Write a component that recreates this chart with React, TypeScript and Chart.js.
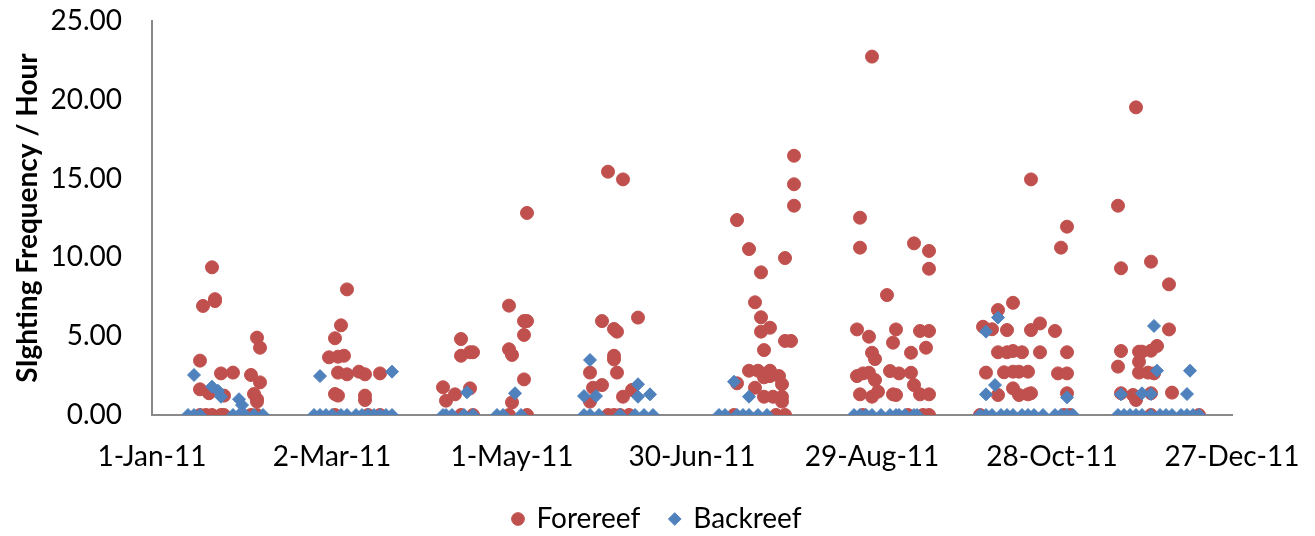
import React, { useEffect, useRef } from "react";
import { Chart, registerables } from "chart.js";

Chart.register(...registerables);

// X axis: days since 1 Jan 2011, labelled every 60 days
const xTickDays = [0, 60, 120, 180, 240, 300, 360];
const xTickLabels = ["1-Jan-11", "2-Mar-11", "1-May-11", "30-Jun-11", "29-Aug-11", "28-Oct-11", "27-Dec-11"];

// Forereef surveys: day of year and sightings per hour
const foreDays = [
  16, 16, 16, 17, 18, 19, 20, 20, 21, 21, 23, 23, 24, 24, 27, 33, 33, 34, 35, 35, 35, 35, 36, 36,
  59, 61, 61, 61, 62, 62, 62, 63, 64, 65, 65, 69, 71, 71, 71, 72, 76, 76,
  97, 98, 101, 103, 103, 103, 106, 106, 107, 107, 119, 119, 119, 120, 120, 124, 124, 124, 125, 125, 125,
  146, 146, 147, 150, 150, 152, 152, 154, 154, 154, 154, 155, 155, 156, 157, 157, 159, 160, 162,
  194, 195, 195, 199, 199, 201, 201, 202, 203, 203, 203, 204, 204, 204, 206, 206, 206, 207, 208, 209,
  210, 210, 210, 211, 211, 211, 213, 214, 214, 214,
  235, 235, 236, 236, 236, 237, 237, 239, 239, 240, 240, 240, 241, 241, 242, 245, 246, 247, 247, 248,
  248, 249, 252, 253, 253, 254, 254, 256, 256, 257, 258, 259, 259, 259, 259, 259,
  276, 277, 278, 280, 282, 282, 282, 284, 285, 285, 287, 287, 287, 287, 289, 289, 290, 292, 292, 293,
  293, 293, 296, 296, 301, 302, 303, 304, 305, 305, 305, 305, 306,
  322, 322, 323, 323, 323, 327, 328, 328, 329, 329, 329, 330, 332, 333, 333, 333, 333, 334, 335, 339,
  339, 340, 349,
];
const foreRates = [
  0, 3.45, 1.63, 6.92, 0, 1.38, 9.37, 0, 7.23, 7.35, 2.64, 0, 1.23, 0, 2.69, 2.54, 0, 1.33, 4.91, 1.0, 0.85, 0, 4.27, 2.07,
  3.66, 4.87, 1.33, 0, 3.7, 2.69, 1.23, 5.69, 3.76, 7.97, 2.58, 2.75, 2.58, 1.23, 0.95, 0, 2.64, 0,
  1.76, 0.91, 1.31, 4.82, 3.76, 0, 3.98, 1.69, 3.98, 0, 6.94, 4.17, 0, 3.81, 0.8, 5.96, 5.08, 2.26, 5.96, 12.82, 0,
  2.69, 0.85, 1.73, 5.96, 1.9, 15.44, 0, 5.46, 3.76, 3.53, 0, 5.29, 2.69, 0, 14.95, 1.16, 0, 1.59, 6.18,
  0, 12.37, 2.01, 10.53, 2.81, 7.15, 1.73, 2.81, 9.05, 6.2, 5.29, 4.12, 2.39, 1.16, 5.54, 2.81, 2.47, 1.16, 0, 2.47,
  1.95, 1.16, 0.85, 9.96, 4.7, 0, 4.7, 16.45, 14.64, 13.28,
  5.43, 2.47, 12.52, 10.62, 1.31, 2.64, 0, 4.97, 2.68, 22.74, 3.95, 1.16, 3.55, 2.22, 1.48, 7.61, 2.79, 4.59, 1.31, 5.43,
  1.27, 2.64, 0, 3.95, 2.68, 10.89, 1.9, 5.33, 1.31, 0, 4.27, 10.41, 9.28, 5.33, 1.31, 0,
  0, 5.6, 2.69, 5.44, 6.66, 3.98, 1.27, 2.71, 5.39, 3.98, 7.12, 4.06, 2.75, 1.69, 2.75, 1.27, 3.98, 2.75, 1.31, 14.95,
  5.39, 1.38, 5.81, 3.98, 5.33, 2.64, 10.62, 0, 11.95, 3.98, 2.64, 1.38, 0,
  13.28, 3.07, 9.31, 4.06, 1.38, 1.27, 19.52, 0.95, 4.02, 3.38, 2.69, 4.02, 2.69, 9.73, 4.08, 1.38, 0, 2.64, 4.38, 8.29,
  5.43, 1.42, 0,
];

// Backreef surveys: day of year and sightings per hour
const backDays = [
  12, 14, 14, 16, 20, 22, 23, 27, 29, 29, 30, 31, 34, 37,
  54, 56, 56, 58, 60, 63, 65, 68, 70, 72, 74, 76, 78, 80, 80,
  97, 98, 100, 104, 105, 107, 115, 117, 121, 123,
  144, 144, 146, 146, 148, 149, 156, 161, 162, 162, 164, 166, 167,
  189, 191, 194, 195, 197, 199, 199, 202, 205,
  234, 236, 238, 240, 243, 246, 248, 249, 251, 254, 255,
  276, 278, 278, 278, 280, 281, 282, 283, 285, 287, 290, 292, 294, 297, 301, 303, 305, 305, 307,
  322, 323, 324, 326, 328, 330, 330, 333, 333, 334, 335, 336, 338, 340, 343, 345, 345, 346, 347, 349,
];
const backRates = [
  0, 2.54, 0, 0, 1.8, 1.54, 1.16, 0, 1.0, 0, 0.63, 0, 0, 0,
  0, 2.47, 0, 0, 0, 0, 0, 0, 0, 0, 0, 0, 0, 2.75, 0,
  0, 0, 0, 0, 1.44, 0, 0, 0, 1.38, 0,
  1.2, 0, 3.49, 0, 1.2, 0, 0, 0, 1.95, 1.16, 0, 1.31, 0,
  0, 0, 2.11, 0, 0, 1.16, 0, 0, 0,
  0, 0, 0, 0, 0, 0, 0, 0, 0, 0, 0,
  0, 5.29, 1.31, 0, 0, 1.9, 6.18, 0, 0, 0, 0, 0, 0, 0, 0, 0, 1.12, 0, 0,
  0, 1.31, 0, 0, 0, 1.38, 0, 1.33, 0, 5.65, 2.81, 0, 0, 0, 0, 1.33, 0, 2.81, 0, 0,
];

const toPoints = (days: number[], rates: number[]) =>
  days.map((d, i) => ({ x: d, y: rates[i] }));

const FONT = "Lato, 'Noto Sans', sans-serif";
const AXIS_GREY = "#898989";
const LEGEND_PAD = 30;

export default function App() {
  const canvasRef = useRef<HTMLCanvasElement>(null);

  useEffect(() => {
    if (!canvasRef.current) return;
    const chart = new Chart(canvasRef.current, {
      type: "scatter",
      data: {
        datasets: [
          {
            label: "Forereef",
            data: toPoints(foreDays, foreRates),
            pointStyle: "circle",
            pointRadius: 6.5,
            pointBorderWidth: 1,
            backgroundColor: "#C0504D",
            borderColor: "#C0504D",
            order: 1,
          },
          {
            label: "Backreef",
            data: toPoints(backDays, backRates),
            pointStyle: "rectRot",
            pointRadius: 6.5,
            pointBorderWidth: 1,
            backgroundColor: "#4F81BD",
            borderColor: "#4F81BD",
            order: 0,
          },
        ],
      },
      options: {
        responsive: true,
        maintainAspectRatio: false,
        animation: false,
        events: [],
        layout: { padding: { left: 0, right: 0, top: 21, bottom: -7 } },
        scales: {
          x: {
            type: "linear",
            min: 0,
            max: 360,
            afterBuildTicks: (s: any) => {
              s.ticks = xTickDays.map((v) => ({ value: v }));
            },
            afterFit: (s: any) => {
              s.paddingRight = 83;
              s.height = 60;
            },
            ticks: {
              autoSkip: false,
              maxRotation: 0,
              padding: 25,
              color: "#000",
              font: { family: FONT, size: 28 },
              callback: (_v: any, i: number) => xTickLabels[i],
            },
            grid: { display: false, drawTicks: false },
            border: { color: AXIS_GREY, width: 2 },
          },
          y: {
            min: 0,
            max: 25,
            afterFit: (s: any) => {
              s.width = 152;
              s.paddingTop = 0;
              s.paddingBottom = 0;
            },
            ticks: {
              stepSize: 5,
              padding: 30,
              color: "#000",
              font: { family: FONT, size: 28 },
              callback: (v: any) => Number(v).toFixed(2),
            },
            grid: { display: false, drawTicks: false },
            border: { color: AXIS_GREY, width: 2 },
            title: {
              display: true,
              text: "SIghting Frequency / Hour",
              color: "#000",
              font: { family: FONT, size: 28, weight: "bold" },
              padding: { top: 11, bottom: 0 },
            },
          },
        },
        plugins: {
          tooltip: { enabled: false },
          legend: {
            position: "bottom",
            labels: {
              usePointStyle: true,
              boxWidth: 9,
              boxHeight: 9,
              padding: LEGEND_PAD,
              color: "#000",
              font: { family: FONT, size: 28 },
              sort: (a: any, b: any) => a.datasetIndex - b.datasetIndex,
            },
          },
        },
      },
    });
    return () => chart.destroy();
  }, []);

  return (
    <div
      style={{
        position: "fixed",
        left: 0,
        top: 0,
        width: 1315,
        height: 536,
        background: "#fff",
      }}
    >
      <canvas ref={canvasRef} />
    </div>
  );
}
